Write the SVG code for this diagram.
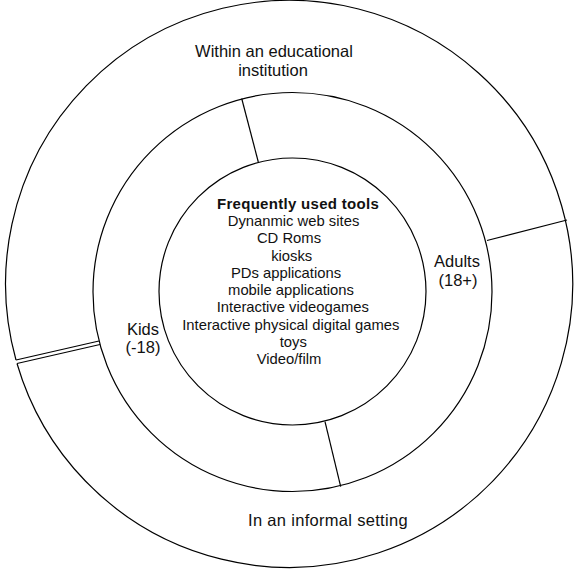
<svg xmlns="http://www.w3.org/2000/svg" width="574" height="575" viewBox="0 0 574 575">
<style>
.ring{fill:none;stroke:#000;stroke-width:1.2}
.div{stroke:#000;stroke-width:1.2;fill:none}
text{font-family:"Liberation Sans",Arial,sans-serif;fill:#111;text-anchor:middle}
.lbl{font-size:16.5px}
.c{font-size:14.8px}
.b{font-size:15px;font-weight:bold;letter-spacing:0.3px}
</style>
<rect width="574" height="575" fill="#fff"/>
<g id="outer-ring">
<path class="ring" d="M16 360 A283.5 283.5 0 1 1 17 363.5"/>
<text class="lbl" x="274" y="56.5">Within an educational</text>
<text class="lbl" x="273" y="75.5">institution</text>
<text class="lbl" x="328" y="526" letter-spacing="0.3">In an informal setting</text>
</g>
<g id="middle-ring">
<circle class="ring" cx="292.5" cy="292" r="199.5"/>
<text class="lbl" x="457" y="267">Adults</text>
<text class="lbl" x="458" y="285.5">(18+)</text>
<text class="lbl" x="143" y="335">Kids</text>
<text class="lbl" x="143" y="353">(-18)</text>
</g>
<g id="inner-circle">
<circle class="ring" cx="292.5" cy="291.5" r="133.5"/>
<text class="b" x="298" y="208.5">Frequently used tools</text>
<text class="c" x="293.5" y="226">Dynanmic web sites</text>
<text class="c" x="289" y="243.2">CD Roms</text>
<text class="c" x="291.7" y="260.5">kiosks</text>
<text class="c" x="286" y="277.8">PDs applications</text>
<text class="c" x="291" y="295">mobile applications</text>
<text class="c" x="292.8" y="312.3">Interactive videogames</text>
<text class="c" x="290.8" y="329.6">Interactive physical digital games</text>
<text class="c" x="293.3" y="347">toys</text>
<text class="c" x="289" y="364.3">Video/film</text>
</g>
<g id="connectors">
<line class="div" x1="241.7" y1="98.5" x2="258.3" y2="162"/>
<line class="div" x1="325" y1="421.7" x2="340.7" y2="486.7"/>
<line class="div" x1="487" y1="240.5" x2="567" y2="220"/>
<line class="div" x1="16" y1="360" x2="99" y2="341"/>
<line class="div" x1="17" y1="363.5" x2="100" y2="344.5"/>
</g>
</svg>
